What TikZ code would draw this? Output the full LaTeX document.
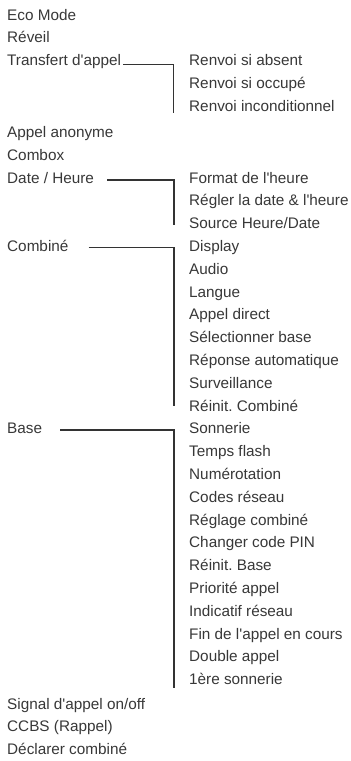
\documentclass[tikz,border=0pt]{standalone}
\usepackage{fontspec}
\setmainfont{Liberation Sans}[Ligatures=TeXOff]
\begin{document}
\frenchspacing
\begin{tikzpicture}[x=1pt,y=-1pt,
  txt/.style={anchor=base west, inner sep=0pt, text=black!78, font=\fontsize{15.3}{18}\selectfont},
  link/.style={draw=black!80, line width=1.3pt}]
\useasboundingbox (0,0) rectangle (351,761);
\fill[white] (0,0) rectangle (351,761);
% left column
\node[txt] (eco) at (7,20) {Eco Mode};
\node[txt] (reveil) at (7,42.8) {Réveil};
\node[txt] (transfert) at (7,65.6) {Transfert d'appel};
\node[txt] (anonyme) at (7,137.5) {Appel anonyme};
\node[txt] (combox) at (7,160.3) {Combox};
\node[txt] (date) at (7,183.1) {Date / Heure};
\node[txt] (combine) at (7,251.5) {Combiné};
\node[txt] (base) at (7,433.9) {Base};
\node[txt] (signal) at (7,709.5) {Signal d'appel on/off};
\node[txt] (ccbs) at (7,731.9) {CCBS (Rappel)};
\node[txt] (declarer) at (7,754.3) {Déclarer combiné};
% right column
\node[txt] (ra) at (189,65.6) {Renvoi si absent};
\node[txt] (rb) at (189,88.4) {Renvoi si occupé};
\node[txt] (rc) at (189,111.2) {Renvoi inconditionnel};
\node[txt] (fa) at (189,183.1) {Format de l'heure};
\node[txt] (fb) at (189,205.9) {Régler la date \& l'heure};
\node[txt] (fc) at (189,228.7) {Source Heure/Date};
\node[txt] (ca) at (189,251.5) {Display};
\node[txt] (cb) at (189,274.3) {Audio};
\node[txt] (cc) at (189,297.1) {Langue};
\node[txt] (cd) at (189,319.9) {Appel direct};
\node[txt] (ce) at (189,342.7) {Sélectionner base};
\node[txt] (cf) at (189,365.5) {Réponse automatique};
\node[txt] (cg) at (189,388.3) {Surveillance};
\node[txt] (ch) at (189,411.1) {Réinit. Combiné};
\node[txt] (ba) at (189,433.9) {Sonnerie};
\node[txt] (bb) at (189,456.7) {Temps flash};
\node[txt] (bc) at (189,479.5) {Numérotation};
\node[txt] (bd) at (189,502.3) {Codes réseau};
\node[txt] (be) at (189,525.1) {Réglage combiné};
\node[txt] (bf) at (189,547.9) {Changer code PIN};
\node[txt] (bg) at (189,570.7) {Réinit. Base};
\node[txt] (bh) at (189,593.5) {Priorité appel};
\node[txt] (bi) at (189,616.3) {Indicatif réseau};
\node[txt] (bj) at (189,639.1) {Fin de l'appel en cours};
\node[txt] (bk) at (189,661.9) {Double appel};
\node[txt] (bl) at (189,684.7) {1ère sonnerie};
% connectors
\draw[link] ([xshift=2pt,yshift=1pt]transfert.base east) -| ([xshift=-15.5pt,yshift=-2pt]rc.base west);
\draw[link] ([xshift=13pt,yshift=3pt]date.base east) -| ([xshift=-15pt,yshift=3.5pt]fc.base west);
\draw[link] ([xshift=20pt,yshift=4pt]combine.base east) -| ([xshift=-15pt,yshift=5pt]ch.base west);
\draw[link] ([xshift=18pt,yshift=4pt]base.base east) -| ([xshift=-15pt,yshift=-3pt]bl.base west);
\end{tikzpicture}
\end{document}
